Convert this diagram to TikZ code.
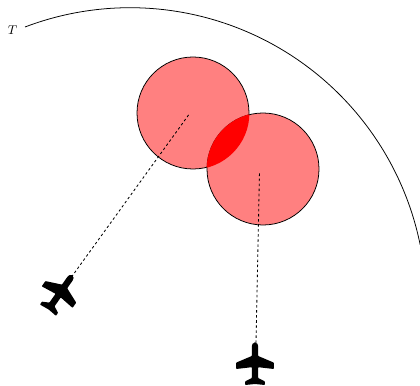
\documentclass[tikz,border=0pt]{standalone}
\tikzset{
	plane/.pic={
		\fill[black, rounded corners=0.4] (0,21.3) .. controls (2.2,21.3) and (3.2,19.5) .. (3.2,17) -- (3.2,8) -- (18.8,1.4) -- (18.8,-5) -- (3.2,-3.2) -- (3.2,-14) -- (9.8,-17.4) -- (9.8,-21) -- (0,-20) -- (-9.8,-21) -- (-9.8,-17.4) -- (-3.2,-14) -- (-3.2,-3.2) -- (-18.8,-5) -- (-18.8,1.4) -- (-3.2,8) -- (-3.2,17) .. controls (-3.2,19.5) and (-2.2,21.3) .. (0,21.3) -- cycle;
	}
}
\begin{document}
\begin{tikzpicture}[x=0.25mm, y=0.25mm]
		\tikzstyle{zone} = [circle, draw, fill=red!50, minimum size=28mm, inner sep=0pt, line width=0.55pt]
		\tikzstyle{track} = [dash pattern=on 1.8pt off 1.8pt, line width=0.6pt]
		\useasboundingbox (0,0) rectangle (420,385);

		% Range boundary
		\draw[line width=0.55pt] (25,358) arc[start angle=110.8, end angle=11.5, radius=296];
		\node (T) at (12.5,355) {\small$T$};

		% Protected zones
		\node[zone] (Z1) at (193,272) {};
		\node[zone] (Z2) at (263,216) {};

		% Overlap of the zones
		\begin{scope}
			\clip (Z1.center) circle (56.4);
			\fill[red] (Z2.center) circle (56.4);
		\end{scope}

		% Aircraft with their tracks
		\pic[rotate=-35] at (60,92) {plane};
		\pic at (255,21) {plane};
		\coordinate (P1) at (71.5,108);
		\coordinate (P2) at (256,42);
		\coordinate (C1) at (190,272);
		\coordinate (C2) at (259.5,214);
		\draw[track] (P1) -- (C1);
		\draw[track] (P2) -- (C2);

		\end{tikzpicture}
\end{document}
